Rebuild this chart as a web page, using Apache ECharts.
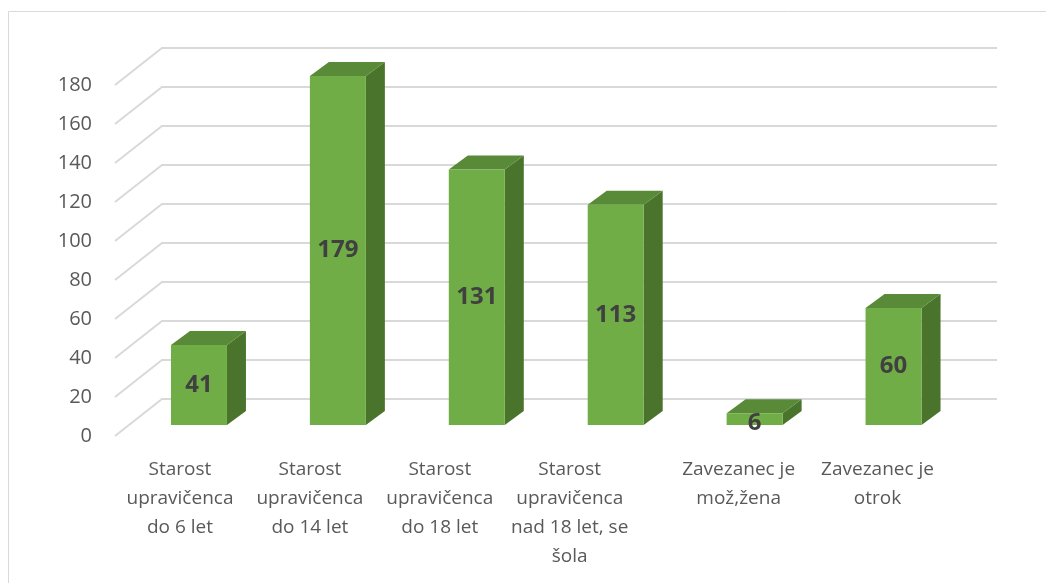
<!DOCTYPE html>
<html>
<head>
    <meta charset="utf-8">
    <title>Zavezanci</title>
    <script src="https://cdn.jsdelivr.net/npm/echarts@6/dist/echarts.min.js"></script>
    <style>
        html, body { margin: 0; padding: 0; background: #fff; }
    </style>
</head>
<body>
<div id="main" style="width: 1046px;height:583px;"></div>
<script type="text/javascript">
    // podatki
    var categories = [
        'Starost\nupravičenca\ndo 6 let',
        'Starost\nupravičenca\ndo 14 let',
        'Starost\nupravičenca\ndo 18 let',
        'Starost\nupravičenca\nnad 18 let, se\nšola',
        'Zavezanec je\nmož,žena',
        'Zavezanec je\notrok'
    ];
    var values = [41, 179, 131, 113, 6, 60];
    var yTicks = [0, 20, 40, 60, 80, 100, 120, 140, 160, 180];

    // premik napisov kategorij (Excel jih ne centrira pod stolpci)
    var labelShift = [-19, -28, -37, -46, -16, -16];

    var myChart = echarts.init(document.getElementById('main'));

    var font = '"Open Sans", "Noto Sans", sans-serif';
    var barW = 56, depthX = 19, depthY = -14;

    var xData = categories.map(function (c, i) {
        var s = labelShift[i];
        return {
            value: c,
            textStyle: {
                padding: s < 0 ? [0, -2 * s, 0, 0] : [0, 0, 0, 2 * s]
            }
        };
    });

    var option = {
        animation: false,
        graphic: [{
            type: 'rect',
            shape: { x: 8.5, y: 11.5, width: 1100, height: 700 },
            style: { fill: 'none', stroke: '#d9d9d9', lineWidth: 1 },
            z: -10
        }],
        grid: {
            left: 129.5,
            right: 83,
            top: 74,
            bottom: 158
        },
        xAxis: {
            type: 'category',
            data: xData,
            axisLine: { show: false },
            axisTick: { show: false },
            splitLine: { show: false },
            axisLabel: {
                interval: 0,
                margin: 30,
                color: '#595959',
                fontFamily: font,
                fontSize: 19,
                lineHeight: 29,
                align: 'center'
            }
        },
        yAxis: {
            type: 'value',
            min: 0,
            max: 180,
            interval: 20,
            axisLine: { show: false },
            axisTick: { show: false },
            splitLine: { show: false },
            axisLabel: {
                margin: 37.5,
                color: '#595959',
                fontFamily: font,
                fontSize: 20,
                verticalAlign: 'top',
                lineHeight: 22
            }
        },
        series: [
            {
                // mreza v perspektivi
                type: 'custom',
                z: 1,
                silent: true,
                data: yTicks.map(function (v) { return [0, v]; }),
                renderItem: function (params, api) {
                    var cs = params.coordSys;
                    var y = api.coord([0, api.value(1)])[1];
                    var left = cs.x, right = cs.x + cs.width;
                    return {
                        type: 'polyline',
                        shape: {
                            points: [
                                [left - 14.5, y + 11],
                                [left + 32.5, y - 26],
                                [right + 34, y - 26]
                            ]
                        },
                        style: { stroke: '#d9d9d9', lineWidth: 2, fill: 'none' }
                    };
                }
            },
            {
                // 3D stolpci
                type: 'custom',
                z: 2,
                data: values.map(function (v, i) { return [i, v]; }),
                renderItem: function (params, api) {
                    var base = api.coord([api.value(0), 0]);
                    var top = api.coord([api.value(0), api.value(1)]);
                    var x0 = base[0] - barW / 2, x1 = base[0] + barW / 2;
                    var yt = top[1], yb = base[1];
                    var ly = (yb - yt) > 24 ? (yt + yb) / 2 : yb - 2;
                    return {
                        type: 'group',
                        children: [
                            {
                                type: 'polygon',
                                shape: { points: [[x1, yt], [x1 + depthX, yt + depthY], [x1 + depthX, yb + depthY], [x1, yb]] },
                                style: { fill: '#4a742b' }
                            },
                            {
                                type: 'polygon',
                                shape: { points: [[x0, yt], [x0 + depthX, yt + depthY], [x1 + depthX, yt + depthY], [x1, yt]] },
                                style: { fill: '#598a38' }
                            },
                            {
                                type: 'rect',
                                shape: { x: x0, y: yt, width: barW, height: yb - yt },
                                style: { fill: '#70ad47' }
                            },
                            {
                                type: 'text',
                                style: {
                                    text: String(api.value(1)),
                                    x: base[0],
                                    y: ly,
                                    align: 'center',
                                    verticalAlign: 'middle',
                                    fill: '#404040',
                                    font: 'bold 24px ' + font
                                }
                            }
                        ]
                    };
                }
            }
        ]
    };

    myChart.setOption(option);
</script>
</body>
</html>
